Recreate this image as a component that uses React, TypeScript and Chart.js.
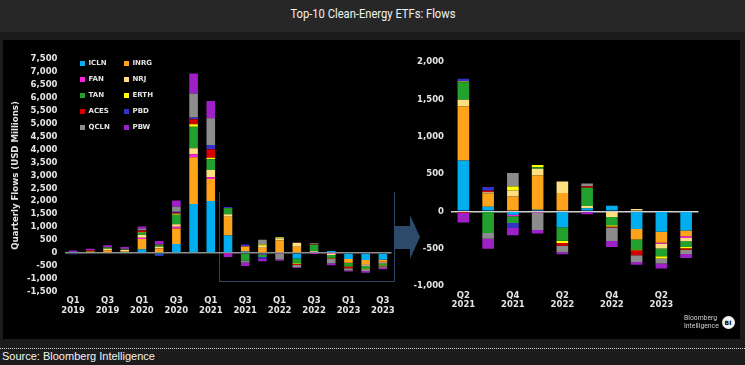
import React, { useEffect, useRef } from 'react';
import { Chart, registerables } from 'chart.js';
Chart.register(...registerables);

// ---------- data ----------
const QUARTERS = ['Q1','Q2','Q3','Q4','Q1','Q2','Q3','Q4','Q1','Q2','Q3','Q4','Q1','Q2','Q3','Q4','Q1','Q2','Q3'];
const YEARS = ['2019','2019','2019','2019','2020','2020','2020','2020','2021','2021','2021','2021','2022','2022','2022','2022','2023','2023','2023'];

const ETF_NAMES = ['ICLN','INRG','FAN','NRJ','TAN','ERTH','ACES','PBD','QCLN','PBW'];
const ETF_COLORS = ['#00aef0','#ffa31a','#ff22dd','#ffdf80','#22a12e','#ffff00','#d40000','#3333c8','#8c8c8c','#a020c8'];

const ICLN = [20, 15, 30, 10, 142, -60, 350, 1895, 2011, 680, 60, -45, 20, -214, 40, 75, -235, -275, -258];
const INRG = [0, 40, 80, 50, 400, 180, 600, 1805, 851, 726, 180, 200, 460, 245, 0, 0, -143, -147, -76];
const FAN = [0, 0, 10, 0, 52, 10, 60, 116, 64, -10, 0, -20, -15, 0, -10, -10, 0, -13, -22];
const NRJ = [0, 0, 40, 60, 103, 50, 100, 232, 284, 90, 15, 80, 90, 155, 30, -67, 30, -62, -45];
const TAN = [10, 10, 50, 20, 90, 60, 370, 835, 412, 232, -290, -90, 22, -179, 245, -111, -134, -103, -76];
const ERTH = [0, 0, 0, 0, 20, 10, 40, 90, 64, 10, 0, 53, 30, -31, 0, -15, -10, -31, -18];
const ACES = [0, 40, 10, 10, 64, 10, 40, 193, 322, -10, 20, 0, 0, -36, 22, -15, -67, 0, -18];
const PBD = [-50, 0, 0, 0, 20, -60, 30, 77, 167, 36, 50, -67, 0, 0, 0, 0, 0, 0, 0];
const QCLN = [10, 0, 10, 10, 44, 20, 200, 928, 1031, 0, -76, 179, -236, -89, 36, -179, -89, -67, -58];
const PBW = [60, 55, 70, 75, 90, 120, 240, 773, 670, -130, -134, -99, -45, -27, -30, -80, -36, -67, -54];

const SERIES = [ICLN, INRG, FAN, NRJ, TAN, ERTH, ACES, PBD, QCLN, PBW];

const LEFT_Y_MIN = -1500;
const LEFT_Y_MAX = 7500;
const RIGHT_Y_MIN = -1000;
const RIGHT_Y_MAX = 2000;
const Y_STEP = 500;
const ZOOM_START = 9; // Q2 2021

const TICK_FONT = { family: 'DejaVu Sans', weight: 'bold' as const, size: 8.5, lineHeight: 1.2 };
const TICK_COLOR = '#e4e4e4';

type Box = { padTop: number; padRight: number; yWidth: number; xHeight: number; xPad: number; barFrac: number; zeroColor: string; showTitle: boolean; lineHeight: number };

function buildConfig(start: number, yMin: number, yMax: number, box: Box): any {
  const q = QUARTERS.slice(start);
  const y = YEARS.slice(start);
  const labels = q.map((v, i) => v + ' ' + y[i]);
  const datasets = ETF_NAMES.map((name, k) => ({
    label: name,
    data: SERIES[k].slice(start),
    backgroundColor: ETF_COLORS[k],
    borderWidth: 0,
    barPercentage: box.barFrac,
    categoryPercentage: 1,
  }));
  return {
    type: 'bar',
    data: { labels, datasets },
    options: {
      animation: false,
      responsive: false,
      maintainAspectRatio: false,
      layout: { padding: { left: 0, right: box.padRight, top: box.padTop, bottom: 0 } },
      plugins: { legend: { display: false }, tooltip: { enabled: false } },
      scales: {
        x: {
          stacked: true,
          grid: { display: false, drawTicks: false },
          border: { display: false },
          ticks: {
            autoSkip: false,
            maxRotation: 0,
            minRotation: 0,
            padding: box.xPad,
            color: TICK_COLOR,
            font: { ...TICK_FONT, lineHeight: box.lineHeight },
            callback: (_v: any, i: number) => (i % 2 === 0 ? [q[i], y[i]] : ''),
          },
          afterFit: (s: any) => { s.height = box.xHeight; },
        },
        y: {
          stacked: true,
          min: yMin,
          max: yMax,
          grid: {
            drawTicks: false,
            lineWidth: (c: any) => (c.tick && c.tick.value === 0 ? 1.5 : 0),
            color: (c: any) => (c.tick && c.tick.value === 0 ? box.zeroColor : 'rgba(0,0,0,0)'),
          },
          border: { display: false },
          ticks: { stepSize: Y_STEP, autoSkip: false, padding: 7, color: TICK_COLOR, font: TICK_FONT },
          title: {
            display: box.showTitle,
            text: 'Quarterly Flows (USD Millions)',
            color: TICK_COLOR,
            font: { family: 'DejaVu Sans', weight: 'bold', size: 8.6, lineHeight: 1.2 },
            padding: { top: 11, bottom: 0 },
          },
          afterFit: (s: any) => { s.width = box.yWidth; },
        },
      },
    },
  };
}

function ChartCanvas({ config, left, top, width, height }: { config: any; left: number; top: number; width: number; height: number }) {
  const ref = useRef<HTMLCanvasElement | null>(null);
  useEffect(() => {
    if (!ref.current) return;
    const chart = new Chart(ref.current, config);
    return () => chart.destroy();
  }, []);
  return (
    <canvas
      ref={ref}
      width={width}
      height={height}
      style={{ position: 'absolute', left, top, width, height }}
    />
  );
}

const abs = (o: any) => ({ position: 'absolute' as const, ...o });

export default function App() {
  const leftCfg = buildConfig(0, LEFT_Y_MIN, LEFT_Y_MAX, {
    padTop: 19, padRight: 8.5, yWidth: 64.5, xHeight: 47.2, xPad: 4, barFrac: 0.5, zeroColor: '#8f8f8f', showTitle: true, lineHeight: 1.2,
  });
  const rightCfg = buildConfig(ZOOM_START, RIGHT_Y_MIN, RIGHT_Y_MAX, {
    padTop: 22, padRight: 41.5, yWidth: 51, xHeight: 53, xPad: 5, barFrac: 0.47, zeroColor: '#cfcfcf', showTitle: false, lineHeight: 1.1,
  });

  const legendRows = [0, 1, 2, 3, 4];
  return (
    <div style={{ position: 'fixed', left: 0, top: 0, width: 745, height: 365, background: '#1c1c1c', overflow: 'hidden', fontFamily: 'DejaVu Sans' }}>
      <div style={abs({ left: 0, top: 0, width: 745, height: 32, background: '#272727' })} />
      <div style={abs({ left: 0, top: 4, width: 745, height: 20, textAlign: 'center', color: '#f2f2f2', fontFamily: 'Roboto', fontSize: 13, lineHeight: '20px' })}>
        <span style={{ display: 'inline-block', transform: 'scaleX(0.86)' }}>Top-10 Clean-Energy ETFs: Flows</span>
      </div>
      <div style={abs({ left: 3, top: 40, width: 737, height: 299, background: '#000' })} />

      {/* zoom box and arrow */}
      <div style={abs({ left: 219, top: 192, width: 174, height: 89, borderLeft: '1.5px solid #2d4662', borderRight: '1.5px solid #2d4662', borderBottom: '1.5px solid #2d4662' })} />
      <svg style={abs({ left: 0, top: 0 })} width={745} height={365}>
        <polygon points="394,226 410,226 410,215 420,237 410,259 410,249 394,249" fill="#2e4a6b" />
      </svg>

      <ChartCanvas config={leftCfg} left={0} top={40} width={400} height={299} />
      <ChartCanvas config={rightCfg} left={400} top={40} width={340} height={299} />

      {/* legend */}
      {legendRows.map((r) =>
        [0, 1].map((c) => {
          const k = r * 2 + c;
          const x = c === 0 ? 79.5 : 123.5;
          const yy = 59 + r * 16;
          return (
            <div key={k} style={abs({ left: x, top: yy, height: 8, display: 'flex', alignItems: 'center' })}>
              <div style={{ width: 5, height: 5, background: ETF_COLORS[k], marginRight: 4 }} />
              <span style={{ color: TICK_COLOR, fontSize: 7, fontWeight: 'bold', fontFamily: 'DejaVu Sans', lineHeight: '8px' }}>{ETF_NAMES[k]}</span>
            </div>
          );
        })
      )}

      {/* logo */}
      <div style={abs({ left: 684, top: 314, color: '#cfcfcf', fontFamily: 'Roboto', fontSize: 8, lineHeight: '8px' })}>
        <div style={{ transform: 'scaleX(0.85)', transformOrigin: 'left' }}>Bloomberg</div>
        <div style={{ transform: 'scaleX(0.85)', transformOrigin: 'left' }}>Intelligence</div>
      </div>
      <div style={abs({ left: 721.5, top: 316, width: 13, height: 13, borderRadius: '50%', background: '#f4f4f4', color: '#000', fontSize: 6, fontWeight: 'bold', fontFamily: 'DejaVu Sans', lineHeight: '13px', textAlign: 'center' })}>BI</div>

      {/* source */}
      <div style={abs({ left: 0, top: 348, width: 745, height: 0, borderTop: '1px dotted #d8d8d8' })} />
      <div style={abs({ left: 2, top: 350, color: '#f4f4f4', fontFamily: 'Liberation Sans', fontSize: 11, lineHeight: '13px' })}>Source: Bloomberg Intelligence</div>
    </div>
  );
}
